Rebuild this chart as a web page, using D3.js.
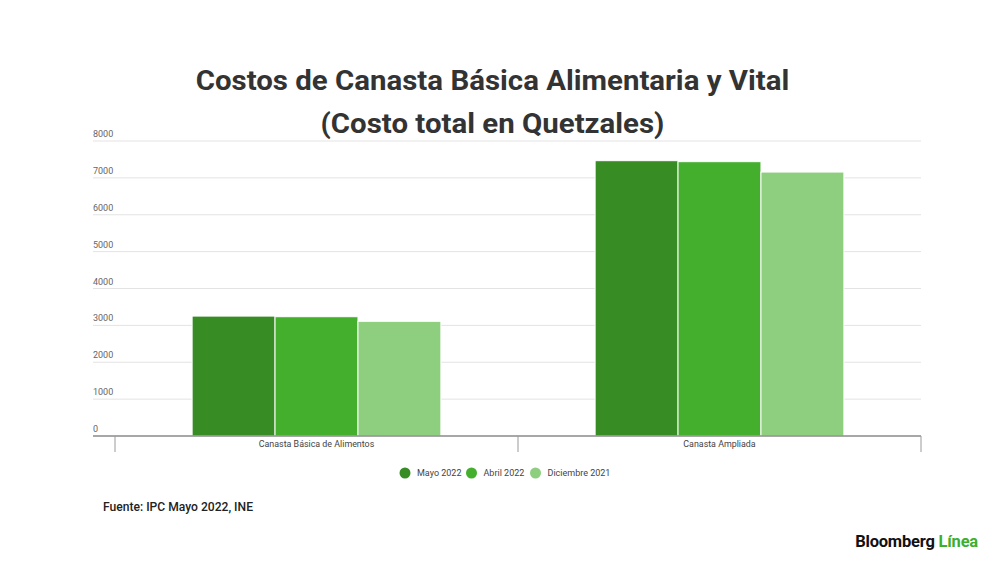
<!DOCTYPE html>
<html>
<head>
<meta charset="utf-8">
<script src="https://cdn.jsdelivr.net/npm/d3@7"></script>
<style>
  body { margin: 0; background: #fff; }
  svg { display: block; font-family: Roboto, "Noto Sans", sans-serif; }
  .tick-label { font-size: 9px; fill: #666; }
  .cat-label { font-size: 8.9px; fill: #444; }
  .legend-label { font-size: 9px; fill: #444; }
</style>
</head>
<body>
<svg id="chart" width="1000" height="562"></svg>
<script>
const categories = ['Canasta Básica de Alimentos', 'Canasta Ampliada']
const series = ['Mayo 2022', 'Abril 2022', 'Diciembre 2021']
const mayo = [3252, 7466]
const abril = [3235, 7439]
const diciembre = [3110, 7158]
const yTicks = [0, 1000, 2000, 3000, 4000, 5000, 6000, 7000, 8000]
const colors = ['#378c24', '#43af2c', '#8ecf7f']

const values = [mayo, abril, diciembre]

const $svg = d3.select('#chart')

const GRID_LEFT = 93
const PLOT = { left: 115, right: 921, top: 141, bottom: 436 }

const x0 = d3.scaleBand()
  .domain(categories)
  .range([PLOT.left, PLOT.right])
const x1 = d3.scaleBand()
  .domain(series)
  .range([0, x0.bandwidth()])
  .paddingOuter(0.93)
const yScale = d3.scaleLinear()
  .domain([0, 8000])
  .range([PLOT.bottom, PLOT.top])
const colorScale = d3.scaleOrdinal()
  .domain(series)
  .range(colors)

// title (slightly stretched like the original)
const $title = $svg.append('g')
$title.selectAll('text')
  .data(['Costos de Canasta Básica Alimentaria y Vital', '(Costo total en Quetzales)'])
  .enter()
  .append('text')
    .attr('transform', (d, i) => `translate(492.5,${89.5 + i * 43}) scale(1.09,1)`)
    .attr('text-anchor', 'middle')
    .attr('font-size', 27)
    .attr('font-weight', 700)
    .attr('fill', '#333')
    .text(d => d)

// grid + y labels
const $grid = $svg.append('g')
$grid.selectAll('line')
  .data(yTicks.filter(d => d > 0))
  .enter()
  .append('line')
    .attr('x1', GRID_LEFT)
    .attr('x2', PLOT.right)
    .attr('y1', d => yScale(d))
    .attr('y2', d => yScale(d))
    .attr('stroke', '#e3e3e3')
    .attr('stroke-width', 1)
$grid.selectAll('.tick-label')
  .data(yTicks)
  .enter()
  .append('text')
    .attr('class', 'tick-label')
    .attr('x', GRID_LEFT)
    .attr('y', d => yScale(d) - 4)
    .text(d => d)

// bars
const rows = categories.map((c, i) => ({
  cat: c,
  bars: series.map((s, j) => ({ key: s, value: values[j][i] }))
}))
const $groups = $svg.append('g')
  .selectAll('g')
  .data(rows)
  .enter()
  .append('g')
    .attr('transform', d => `translate(${x0(d.cat)},0)`)
$groups.selectAll('rect')
  .data(d => d.bars)
  .enter()
  .append('rect')
    .attr('x', d => x1(d.key))
    .attr('y', d => yScale(d.value))
    .attr('width', x1.bandwidth())
    .attr('height', d => yScale(0) - yScale(d.value))
    .attr('fill', d => colorScale(d.key))
    .attr('stroke', '#fff')
    .attr('stroke-width', 1)

// x axis
$svg.append('line')
  .attr('x1', GRID_LEFT)
  .attr('x2', PLOT.right)
  .attr('y1', yScale(0))
  .attr('y2', yScale(0))
  .attr('stroke', '#8a8a8a')
  .attr('stroke-width', 1.5)
const tickXs = categories.map(c => x0(c)).concat([PLOT.right])
$svg.append('g')
  .selectAll('line')
  .data(tickXs)
  .enter()
  .append('line')
    .attr('x1', d => d)
    .attr('x2', d => d)
    .attr('y1', yScale(0))
    .attr('y2', yScale(0) + 16)
    .attr('stroke', '#9a9a9a')
    .attr('stroke-width', 1)
$svg.append('g')
  .selectAll('text')
  .data(categories)
  .enter()
  .append('text')
    .attr('class', 'cat-label')
    .attr('x', d => x0(d) + x0.bandwidth() / 2)
    .attr('y', yScale(0) + 11)
    .attr('text-anchor', 'middle')
    .text(d => d)

// legend
const legendX = [405, 471.5, 535.5]
const $legend = $svg.append('g')
  .selectAll('g')
  .data(series)
  .enter()
  .append('g')
    .attr('transform', (d, i) => `translate(${legendX[i]},473)`)
$legend.append('circle')
  .attr('r', 5.5)
  .attr('fill', d => colorScale(d))
$legend.append('text')
  .attr('class', 'legend-label')
  .attr('x', 12)
  .attr('y', 3.3)
  .text(d => d)

// source + logo
$svg.append('text')
  .attr('x', 103)
  .attr('y', 511)
  .attr('font-size', 12.1)
  .attr('font-weight', 500)
  .attr('fill', '#222')
  .text('Fuente: IPC Mayo 2022, INE')

const $logo = $svg.append('text')
  .attr('x', 978)
  .attr('y', 547)
  .attr('text-anchor', 'end')
  .attr('font-size', 16.5)
  .attr('font-weight', 700)
  .attr('letter-spacing', -0.2)
$logo.append('tspan').attr('fill', '#111').text('Bloomberg ')
$logo.append('tspan').attr('fill', '#3fae2a').text('Línea')
</script>
</body>
</html>
